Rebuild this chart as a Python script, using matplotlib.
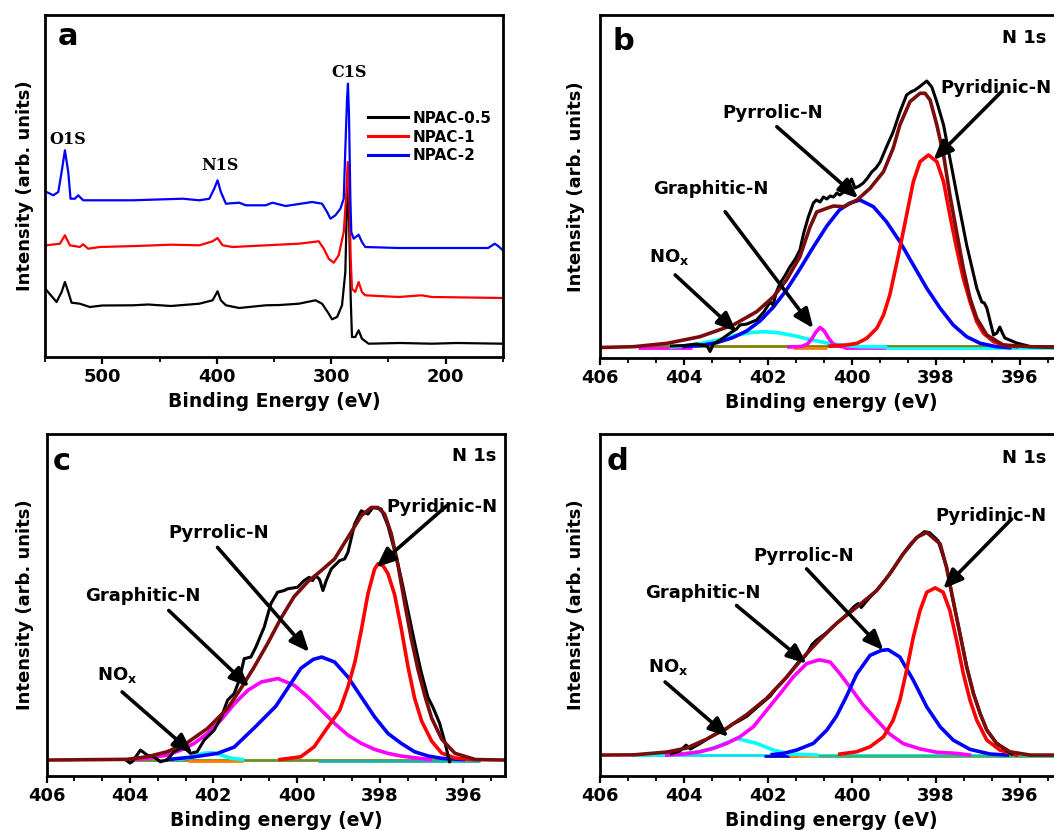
import matplotlib
matplotlib.use('Agg')
import matplotlib.pyplot as plt
from matplotlib.ticker import MultipleLocator

plt.rcParams['font.family'] = ['DejaVu Sans']
plt.rcParams['font.weight'] = 'bold'
plt.rcParams['axes.labelweight'] = 'bold'

# ---------------- Panel a: survey spectra (binding energy eV, intensity a.u.) ----------------
a_series_names = ['NPAC-0.5', 'NPAC-1', 'NPAC-2']
a_npac05 = [(548.6, 66.7), (539.9, 55.0), (535.5, 65.0), (532.6, 75.0), (529.7, 65.0), (526.8, 54.3),
            (519.6, 53.3), (510.9, 50.0), (500.0, 51.5), (473.2, 51.7), (460.0, 52.5), (440.0, 51.0),
            (415.2, 53.3), (403.6, 56.7), (399.3, 65.7), (396.4, 56.7), (392.0, 51.7), (380.4, 49.0),
            (357.2, 51.7), (345.0, 52.0), (328.3, 53.3), (313.8, 56.7), (308.0, 53.3), (302.2, 43.3),
            (299.3, 37.7), (294.9, 40.0), (290.6, 51.7), (287.7, 85.0), (286.2, 158.3), (285.4, 178.3),
            (284.2, 125.0), (283.0, 58.3), (281.9, 20.0), (279.0, 20.0), (276.1, 26.7), (273.2, 18.3),
            (267.4, 13.3), (240.0, 14.0), (212.3, 13.3), (190.0, 14.0), (150.1, 13.3)]
a_npac1 = [(548.6, 111.7), (537.0, 113.3), (532.6, 121.7), (528.3, 111.7), (519.6, 110.0), (516.7, 112.7),
           (512.3, 108.3), (502.2, 110.0), (470.0, 111.0), (440.0, 112.3), (415.2, 111.7), (403.6, 115.7),
           (399.3, 119.0), (394.9, 111.7), (386.2, 110.0), (360.0, 111.5), (328.3, 113.3), (310.9, 115.7),
           (306.5, 108.3), (302.2, 98.3), (297.8, 94.3), (293.5, 101.7), (289.1, 125.0), (287.1, 158.3),
           (285.6, 195.0), (284.2, 158.3), (283.0, 98.3), (281.9, 68.3), (279.0, 65.0), (276.1, 75.0),
           (273.2, 65.0), (270.3, 61.7), (241.3, 60.0), (221.0, 61.7), (212.3, 60.0), (180.0, 59.5),
           (150.1, 59.0)]
a_npac2 = [(548.6, 165.0), (542.8, 161.7), (538.4, 165.0), (535.5, 185.0), (532.6, 206.7), (529.7, 185.0),
           (527.7, 158.3), (523.9, 158.3), (521.0, 161.7), (516.7, 156.7), (508.0, 156.7), (473.2, 156.7),
           (429.7, 158.3), (415.2, 156.7), (406.5, 158.3), (402.2, 168.3), (399.3, 176.7), (396.4, 165.0),
           (392.0, 153.3), (380.4, 154.3), (374.6, 151.7), (357.2, 151.7), (351.4, 154.3), (339.9, 151.0),
           (316.7, 155.0), (308.0, 153.3), (303.6, 145.0), (300.7, 138.3), (296.4, 141.7), (292.0, 148.3),
           (289.1, 158.3), (287.7, 208.3), (286.2, 258.3), (285.4, 273.3), (284.5, 241.7), (283.3, 158.3),
           (282.5, 125.0), (280.4, 118.3), (276.1, 122.3), (273.2, 115.0), (270.3, 110.0), (241.3, 109.0),
           (212.3, 109.0), (163.0, 109.0), (157.2, 113.3), (154.3, 111.0), (150.1, 106.7)]
a_peak_labels = ['O1S', 'N1S', 'C1S']
a_peak_pos = [(530.4, 218.0), (397.1, 192.0), (284.8, 285.0)]

# ---------------- Panel b: N 1s ----------------
b_raw = [(404.3, 12.0), (404.0, 12.5), (403.7, 14.0), (403.45, 12.0), (403.38, 6.5), (403.3, 14.0),
         (403.1, 19.0), (402.9, 25.0), (402.75, 29.0), (402.67, 33.0), (402.5, 34.0), (402.27, 38.0),
         (402.1, 46.0), (401.95, 56.0), (401.88, 53.0), (401.8, 66.0), (401.71, 75.0), (401.6, 82.0),
         (401.48, 91.0), (401.35, 99.0), (401.24, 108.0), (401.15, 125.0), (401.04, 141.0), (400.92, 155.0),
         (400.85, 158.0), (400.76, 156.0), (400.68, 161.0), (400.6, 159.0), (400.52, 162.0), (400.44, 161.0),
         (400.36, 165.0), (400.29, 163.0), (400.2, 166.0), (400.13, 170.0), (400.01, 179.0), (399.93, 170.0),
         (399.83, 172.0), (399.73, 175.0), (399.63, 180.0), (399.53, 186.0), (399.43, 190.0), (399.33, 196.0),
         (399.18, 211.0), (399.02, 226.0), (398.86, 246.0), (398.70, 263.0), (398.6, 266.0), (398.5, 268.0),
         (398.4, 271.0), (398.34, 273.0), (398.22, 277.0), (398.10, 271.0), (397.98, 256.0), (397.82, 233.0),
         (397.67, 200.0), (397.47, 156.0), (397.27, 113.0), (397.03, 70.0), (396.91, 56.0), (396.85, 55.0),
         (396.79, 50.0), (396.63, 23.0), (396.55, 25.0), (396.48, 31.0), (396.42, 25.0), (396.36, 20.0),
         (396.08, 15.0), (395.76, 11.5), (395.2, 11.0)]
b_envelope = [(406.0, 10.5), (405.2, 11.3), (404.4, 14.7), (403.62, 21.3), (402.83, 33.0), (402.27, 46.3),
              (401.87, 61.3), (401.56, 78.0), (401.24, 101.3), (401.0, 131.0), (400.84, 146.0), (400.6, 149.7),
              (400.44, 152.0), (400.2, 151.3), (399.88, 158.0), (399.57, 169.7), (399.25, 186.3),
              (399.02, 209.7), (398.86, 233.0), (398.62, 256.3), (398.38, 264.7), (398.26, 264.7),
              (398.14, 258.0), (397.98, 233.0), (397.82, 203.0), (397.67, 163.0), (397.51, 126.3),
              (397.35, 89.7), (397.19, 59.7), (397.03, 39.7), (396.79, 23.0), (396.40, 13.0),
              (395.76, 11.3), (395.0, 10.5)]
b_pyridinic = [(400.52, 12.0), (400.13, 13.0), (399.88, 14.7), (399.65, 19.7), (399.41, 29.7), (399.25, 43.0),
               (399.10, 63.0), (398.98, 86.3), (398.86, 109.7), (398.70, 143.0), (398.54, 176.3),
               (398.38, 196.3), (398.18, 203.0), (397.98, 196.3), (397.82, 176.3), (397.67, 143.0),
               (397.51, 109.7), (397.35, 79.7), (397.19, 56.3), (397.03, 36.3), (396.87, 24.7),
               (396.63, 16.3), (396.40, 13.0), (396.08, 11.3)]
b_pyrrolic = [(404.0, 11.5), (403.62, 12.5), (403.22, 15.3), (402.83, 20.5), (402.51, 27.0), (402.19, 37.0),
              (401.87, 51.0), (401.56, 68.0), (401.24, 89.0), (400.92, 111.0), (400.6, 132.0), (400.3, 148.0),
              (400.05, 155.0), (399.81, 158.0), (399.49, 151.3), (399.18, 136.3), (398.86, 116.3),
              (398.54, 93.0), (398.22, 69.7), (397.9, 49.7), (397.59, 33.0), (397.27, 21.3), (396.95, 14.7),
              (396.56, 11.3), (396.24, 10.3)]
b_graphitic = [(401.5, 11.0), (401.2, 11.5), (401.06, 14.0), (400.96, 19.0), (400.86, 26.0), (400.76, 30.5),
               (400.66, 27.0), (400.56, 20.0), (400.46, 14.5), (400.36, 12.0), (400.2, 11.0)]
b_nox = [(404.3, 11.0), (404.0, 12.0), (403.6, 14.5), (403.2, 18.0), (402.8, 22.5), (402.4, 25.5),
         (402.1, 26.3), (401.8, 25.5), (401.4, 22.5), (401.0, 18.5), (400.6, 15.0), (400.2, 12.5),
         (399.8, 11.3), (399.2, 11.0)]
b_base_level = 11.0

# ---------------- Panel c: N 1s ----------------
c_raw = [(404.1, 16.0), (404.0, 13.0), (403.95, 14.3), (403.85, 20.0), (403.75, 26.0), (403.59, 21.0),
         (403.43, 19.3), (403.27, 14.3), (403.11, 16.0), (402.95, 24.3), (402.71, 29.3), (402.55, 22.7),
         (402.39, 24.3), (402.22, 36.0), (401.98, 46.0), (401.8, 60.0), (401.66, 76.0), (401.50, 82.7),
         (401.38, 96.0), (401.26, 117.7), (401.10, 119.3), (400.98, 129.3), (400.78, 149.3), (400.62, 172.7),
         (400.46, 184.3), (400.3, 186.0), (400.22, 187.7), (399.98, 189.3), (399.82, 196.0), (399.70, 199.3),
         (399.62, 196.0), (399.54, 201.0), (399.45, 197.0), (399.37, 186.0), (399.29, 196.0), (399.17, 207.7),
         (398.97, 216.0), (398.85, 217.7), (398.77, 224.3), (398.61, 252.7), (398.45, 266.0), (398.29, 262.7),
         (398.17, 269.3), (397.97, 267.7), (397.81, 251.0), (397.65, 226.0), (397.49, 198.0), (397.33, 166.0),
         (397.17, 134.0), (397.01, 104.0), (396.85, 79.0), (396.73, 69.0), (396.57, 53.0), (396.45, 35.0),
         (396.33, 14.3)]
c_envelope = [(406.0, 16.0), (404.07, 16.7), (403.59, 19.3), (403.11, 24.3), (402.63, 33.3), (402.14, 47.7),
              (401.66, 67.7), (401.34, 87.7), (401.02, 109.3), (400.70, 132.7), (400.38, 158.0),
              (400.06, 180.0), (399.73, 195.0), (399.41, 206.0), (399.09, 217.7), (398.77, 239.3),
              (398.45, 261.0), (398.21, 269.3), (398.05, 269.3), (397.89, 262.7), (397.73, 243.0),
              (397.57, 212.0), (397.41, 174.0), (397.25, 138.0), (397.09, 107.0), (396.92, 80.0),
              (396.76, 58.0), (396.52, 37.0), (396.20, 22.7), (395.71, 16.5), (395.0, 16.0)]
c_pyridinic = [(400.4, 16.5), (399.90, 19.3), (399.58, 29.3), (399.25, 49.3), (398.97, 65.7), (398.77, 89.3),
               (398.60, 114.7), (398.45, 146.0), (398.29, 182.7), (398.13, 207.7), (398.05, 212.7),
               (397.93, 211.0), (397.81, 203.0), (397.65, 182.0), (397.49, 148.0), (397.33, 110.0),
               (397.17, 78.0), (397.00, 55.0), (396.76, 35.0), (396.52, 23.0), (396.20, 18.0), (395.8, 16.5)]
c_pyrrolic = [(403.1, 16.5), (402.5, 19.0), (401.9, 22.7), (401.5, 29.0), (401.0, 49.0), (400.5, 70.0),
              (400.2, 89.0), (399.9, 108.0), (399.6, 117.0), (399.4, 119.3), (399.09, 114.3), (398.77, 99.3),
              (398.45, 79.3), (398.13, 59.3), (397.81, 42.7), (397.49, 32.7), (397.17, 24.3), (396.84, 20.0),
              (396.52, 17.7), (396.0, 16.5)]
c_graphitic = [(404.0, 16.5), (403.58, 17.7), (403.10, 21.0), (402.78, 26.0), (402.46, 32.7), (402.14, 42.7),
               (401.82, 56.0), (401.49, 72.7), (401.17, 86.0), (400.85, 94.3), (400.45, 97.7), (400.06, 91.0),
               (399.73, 79.3), (399.41, 66.0), (399.09, 52.7), (398.77, 41.0), (398.45, 32.7), (398.13, 26.7),
               (397.81, 22.7), (397.49, 20.0), (397.17, 18.3), (396.8, 16.5)]
c_nox = [(402.9, 16.5), (402.6, 18.0), (402.4, 21.0), (402.2, 23.0), (402.0, 23.3), (401.8, 21.0),
         (401.6, 18.0), (401.3, 16.5)]
c_base_level = 16.5

# ---------------- Panel d: N 1s ----------------
d_raw = [(404.3, 22.5), (404.1, 25.0), (403.95, 31.0), (403.85, 27.0), (403.6, 33.0), (403.3, 41.0),
         (403.0, 47.0), (402.85, 52.0), (402.7, 55.0), (402.5, 60.0), (402.2, 71.0), (401.95, 80.0),
         (401.8, 88.0), (401.6, 97.0), (401.3, 113.0), (401.1, 121.0), (400.95, 132.0), (400.85, 136.0),
         (400.6, 144.0), (400.37, 153.0), (400.1, 163.0), (399.95, 170.0), (399.85, 173.0), (399.78, 169.0),
         (399.6, 178.0), (399.4, 187.0), (399.2, 197.0), (399.0, 209.0), (398.8, 222.0), (398.6, 233.0),
         (398.4, 241.0), (398.28, 245.0), (398.15, 244.0), (397.95, 236.0), (397.75, 210.0), (397.6, 177.0),
         (397.43, 143.0), (397.27, 110.0), (397.1, 82.0), (396.95, 63.0), (396.8, 47.0), (396.56, 33.0),
         (396.3, 25.0), (396.2, 22.0)]
d_envelope = [(406.0, 21.0), (405.2, 21.2), (404.41, 24.0), (403.94, 28.0), (403.46, 37.0), (402.98, 48.0),
              (402.51, 61.5), (402.03, 78.0), (401.56, 99.0), (401.16, 119.0), (400.76, 137.0),
              (400.37, 153.0), (399.89, 169.3), (399.41, 186.0), (399.10, 202.7), (398.78, 222.7),
              (398.46, 239.3), (398.22, 244.3), (397.9, 232.7), (397.75, 209.3), (397.59, 176.0),
              (397.43, 142.7), (397.27, 109.3), (397.11, 82.7), (396.95, 62.7), (396.79, 46.0),
              (396.56, 32.7), (396.24, 24.3), (395.76, 21.0), (395.0, 21.0)]
d_pyridinic = [(400.29, 22.0), (399.89, 24.3), (399.57, 29.3), (399.25, 39.3), (399.02, 56.0), (398.86, 76.0),
               (398.70, 106.0), (398.54, 139.3), (398.38, 166.0), (398.22, 184.3), (398.02, 188.7),
               (397.83, 184.3), (397.67, 166.0), (397.51, 136.0), (397.35, 102.7), (397.19, 76.0),
               (397.03, 56.0), (396.79, 36.0), (396.48, 26.0), (396.08, 21.0)]
d_pyrrolic = [(401.9, 21.5), (401.63, 22.7), (401.32, 26.0), (400.92, 32.7), (400.6, 46.0), (400.37, 60.0),
              (400.13, 80.0), (399.89, 102.0), (399.57, 121.0), (399.3, 126.0), (399.14, 126.7),
              (398.86, 119.3), (398.54, 96.0), (398.22, 69.3), (397.90, 49.3), (397.59, 36.0), (397.19, 26.7),
              (396.71, 22.0), (396.3, 21.0)]
d_graphitic = [(404.41, 21.0), (404.02, 22.0), (403.62, 24.3), (403.30, 27.7), (402.98, 32.7), (402.67, 39.3),
               (402.35, 49.3), (402.03, 66.0), (401.71, 82.7), (401.40, 99.3), (401.08, 112.7), (400.78, 116.5),
               (400.52, 114.3), (400.29, 102.7), (400.05, 89.3), (399.73, 71.0), (399.41, 56.0), (399.10, 42.0),
               (398.78, 32.5), (398.38, 27.2), (397.98, 23.8), (397.51, 22.7), (397.2, 21.0)]
d_nox = [(405.2, 21.0), (404.1, 22.0), (403.62, 24.3), (403.22, 29.3), (402.75, 37.7), (402.27, 32.7),
         (401.87, 26.0), (401.48, 22.0), (400.84, 21.0)]
d_base_level = 21.0

component_names = ['Pyridinic-N', 'Pyrrolic-N', 'Graphitic-N', 'NO$_\\mathbf{x}$']

# ---------------- drawing ----------------
FIG_W, FIG_H = 1054, 830
fig = plt.figure(figsize=(FIG_W / 100, FIG_H / 100), dpi=100)


def xy(pairs):
    xs, ys = zip(*pairs)
    return list(xs), list(ys)


def style_axes(ax):
    for s in ax.spines.values():
        s.set_linewidth(2.0)
    ax.set_yticks([])
    ax.tick_params(axis='x', which='major', direction='out', length=5, width=1.6,
                   labelsize=13, pad=3, top=False)
    ax.tick_params(axis='x', which='minor', direction='out', length=3.5, width=1.3, top=False)
    for lab in ax.get_xticklabels():
        lab.set_fontweight('bold')


# Panel a
axa = fig.add_axes([45 / FIG_W, 1 - 357 / FIG_H, 458 / FIG_W, 342 / FIG_H])
for pairs, col, name in zip([a_npac05, a_npac1, a_npac2], ['black', '#ff0000', '#0000ff'], a_series_names):
    x, y = xy(pairs)
    axa.plot(x, y, color=col, lw=1.6, label=name)
axa.set_xlim(550, 150)
axa.set_ylim(0, 342)
axa.xaxis.set_major_locator(MultipleLocator(100))
axa.xaxis.set_minor_locator(MultipleLocator(50))
style_axes(axa)
axa.set_xlabel('Binding Energy (eV)', fontsize=13.5, fontweight='bold', labelpad=4)
axa.set_ylabel('Intensity (arb. units)', fontsize=13, fontweight='bold', labelpad=8)
for lab, (px, py) in zip(a_peak_labels, a_peak_pos):
    axa.text(px, py, lab, ha='center', va='center', fontsize=11.5, fontweight='bold', family='DejaVu Serif')
leg = axa.legend(loc='upper left', bbox_to_anchor=(0.705, 0.72), frameon=False, fontsize=11,
                 handlelength=2.6, handletextpad=0.35, labelspacing=0.25, borderaxespad=0, borderpad=0)
for t in leg.get_texts():
    t.set_fontweight('bold')
for h in leg.get_lines():
    h.set_linewidth(2.2)
axa.text(0.028, 0.912, 'a', transform=axa.transAxes, fontsize=22, fontweight='bold', ha='left', va='baseline')

# N 1s panels
arrow_props = dict(arrowstyle='-|>,head_length=0.9,head_width=0.38', lw=2.6, color='black',
                   shrinkA=0, shrinkB=0, mutation_scale=13)


def n1s_panel(rect, letter, raw, env, comps, base_segments, texts, arrows, letter_xy, n1s_xy):
    ax = fig.add_axes(rect)
    for (x0, x1, col, lev) in base_segments:
        ax.plot([x0, x1], [lev, lev], color=col, lw=2.0, solid_capstyle='butt')
    for pairs, col in comps:
        x, y = xy(pairs)
        ax.plot(x, y, color=col, lw=2.6)
    x, y = xy(raw)
    ax.plot(x, y, color='black', lw=2.2)
    x, y = xy(env)
    ax.plot(x, y, color='#7a0c0c', lw=2.6)
    ax.set_xlim(406, 395)
    ax.set_ylim(0, 343)
    ax.xaxis.set_major_locator(MultipleLocator(2))
    ax.xaxis.set_minor_locator(MultipleLocator(2 / 3))
    style_axes(ax)
    ax.set_xlabel('Binding energy (eV)', fontsize=13.5, fontweight='bold', labelpad=4)
    for name, (tx, ty, ha) in zip(component_names, texts):
        ax.text(tx, ty, name, ha=ha, va='center', fontsize=13, fontweight='bold')
    for tail, head in arrows:
        ax.annotate('', xy=head, xytext=tail, arrowprops=arrow_props)
    ax.text(letter_xy[0], letter_xy[1], letter, transform=ax.transAxes, fontsize=22,
            fontweight='bold', ha='left', va='baseline')
    ax.text(n1s_xy[0], n1s_xy[1], 'N 1s', fontsize=13, fontweight='bold', ha='center', va='center')
    return ax


axb = n1s_panel([600 / FIG_W, 1 - 358 / FIG_H, 462 / FIG_W, 343 / FIG_H], 'b', b_raw, b_envelope,
                [(b_nox, '#00ffff'), (b_graphitic, '#ff00ff'), (b_pyrrolic, '#0000ff'), (b_pyridinic, '#ff0000')],
                [(405.2, 395.0, '#808000', b_base_level + 0.5), (405.1, 403.8, '#ff00ff', b_base_level - 1.5),
                 (401.4, 400.6, '#ff7f00', b_base_level - 1.5), (400.2, 399.2, '#ff00ff', b_base_level - 1.5),
                 (399.2, 395.0, '#00ffff', b_base_level - 1.5)],
                [(397.9, 270, 'left'), (401.9, 245, 'center'), (403.37, 169, 'center'), (404.83, 101, 'left')],
                [((396.44, 266.3), (398.06, 198.0)), ((401.79, 231.3), (399.85, 159.7)),
                 ((403.02, 146.3), (400.92, 29.7)), ((404.21, 83.0), (402.75, 26.3))],
                (0.028, 0.898), (395.9, 320))
axb.set_ylabel('Intensity (arb. units)', fontsize=13, fontweight='bold', labelpad=11)

axc = n1s_panel([46.7 / FIG_W, 1 - 776 / FIG_H, 458.3 / FIG_W, 342 / FIG_H], 'c', c_raw, c_envelope,
                [(c_nox, '#00ffff'), (c_graphitic, '#ff00ff'), (c_pyrrolic, '#0000ff'), (c_pyridinic, '#ff0000')],
                [(404.1, 395.6, '#6b8e23', c_base_level), (402.6, 401.3, '#ff7f00', c_base_level - 1.0),
                 (399.5, 395.6, '#20b2aa', c_base_level - 1.0)],
                [(396.52, 270, 'center'), (401.88, 244, 'center'), (403.69, 181, 'center'), (404.8, 101, 'left')],
                [((396.4, 271.0), (398.09, 209.3)), ((401.9, 229.3), (399.7, 124.3)),
                 ((403.07, 166.0), (401.14, 89.3)), ((404.19, 84.3), (402.5, 22.7))],
                (0.014, 0.895), (395.74, 321))
axc.set_ylabel('Intensity (arb. units)', fontsize=13, fontweight='bold', labelpad=9)

axd = n1s_panel([600 / FIG_W, 1 - 776 / FIG_H, 462 / FIG_W, 342 / FIG_H], 'd', d_raw, d_envelope,
                [(d_nox, '#00ffff'), (d_graphitic, '#ff00ff'), (d_pyrrolic, '#0000ff'), (d_pyridinic, '#ff0000')],
                [(405.2, 395.0, '#00e5ee', d_base_level), (402.1, 401.3, '#0000cd', d_base_level - 1.0),
                 (401.5, 400.8, '#ff7f00', d_base_level - 1.0), (400.8, 395.0, '#3cb371', d_base_level - 0.8)],
                [(398.02, 261, 'left'), (401.16, 221, 'center'), (403.56, 184, 'center'), (404.85, 109, 'left')],
                [((396.2, 257.7), (397.83, 187.7)), ((401.08, 207.7), (399.25, 126.0)),
                 ((402.75, 171.0), (401.08, 112.7)), ((404.45, 94.3), (402.94, 39.3))],
                (0.015, 0.895), (395.9, 319))
axd.set_ylabel('Intensity (arb. units)', fontsize=13, fontweight='bold', labelpad=11)

fig.savefig('out.png', dpi=100)
